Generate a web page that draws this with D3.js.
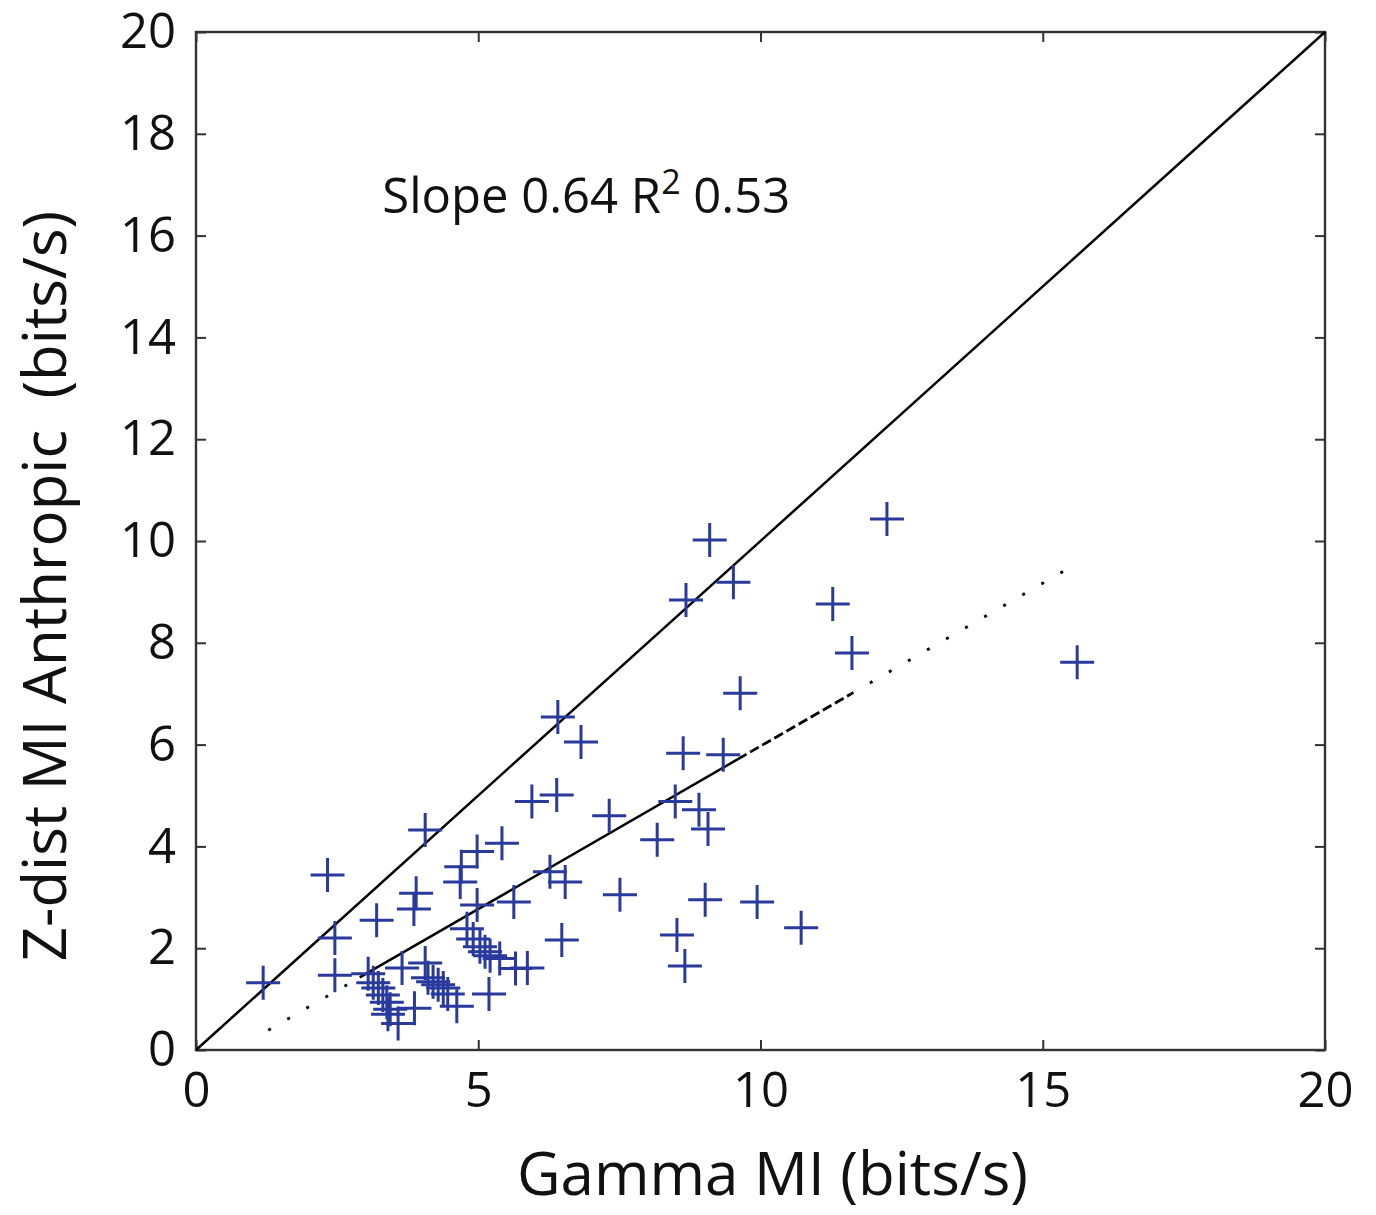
<!DOCTYPE html>
<html><head><meta charset="utf-8">
<script src="https://cdn.jsdelivr.net/npm/d3@7"></script>
<style>
html,body{margin:0;padding:0;background:#fff;}
text{font-family:"Open Sans","Noto Sans",sans-serif;fill:#111;}
</style></head>
<body>
<svg id="chart" width="1376" height="1215"></svg>
<script>
// ---- data ----
const gammaMI = [1.19,2.33,2.46,2.46,3.20,4.06,3.90,3.86,4.98,5.42,4.70,4.68,4.98,5.63,6.27,6.54,6.48,5.19,4.62,3.87,3.58,3.05,3.14,3.23,3.31,3.38,3.44,3.40,3.65,4.06,4.11,4.20,4.29,4.38,4.46,4.80,4.91,5.03,5.12,5.21,5.38,5.66,5.87,9.10,9.52,8.68,11.28,9.64,6.41,6.82,8.63,9.34,5.95,6.39,7.32,8.49,8.91,9.07,8.17,7.51,9.02,9.94,10.72,8.52,8.66,12.24,11.62,15.61];
const zdistMI = [1.32,3.44,2.20,1.47,2.55,4.32,3.08,2.77,3.90,4.06,3.60,3.30,2.85,2.91,3.50,3.30,2.16,1.10,0.86,0.82,0.52,1.50,1.32,1.22,1.08,0.94,0.80,0.70,1.61,1.71,1.42,1.34,1.28,1.22,1.10,2.38,2.18,2.03,1.93,1.85,1.80,1.60,1.61,10.02,9.19,8.84,8.76,7.01,6.54,6.05,5.83,5.80,4.88,5.01,4.60,4.88,4.72,4.34,4.13,3.05,2.95,2.91,2.40,2.26,1.65,10.43,7.80,7.62];
const xTicks = [0,5,10,15,20];
const yTicks = [0,2,4,6,8,10,12,14,16,18,20];
const fitSlope = 0.64, fitIntercept = -0.43;
// fit line pieces: [x start, x end, style]
const fitPieces = [[1.28,2.9,"dot"],[2.9,9.6,"solid"],[9.6,11.6,"dash"],[11.6,15.5,"dot"]];
const unityLine = [0,20];
const annotation = "Slope 0.64 R";

// ---- layout ----
const m = {left:196, top:32, right:51, bottom:165};
const W = 1376, H = 1215;
const iw = W - m.left - m.right, ih = H - m.top - m.bottom;
const svg = d3.select("#chart");
const g = svg.append("g").attr("transform",`translate(${m.left},${m.top})`);
const x = d3.scaleLinear().domain([0,20]).range([0,iw]);
const y = d3.scaleLinear().domain([0,20]).range([ih,0]);

// ticks (inside, all four sides)
const tl = 10;
const axisColor = "#333";
g.append("g").attr("transform",`translate(0,${ih})`)
  .call(d3.axisBottom(x).tickValues(xTicks).tickSize(-tl).tickPadding(22).tickFormat(d3.format("d")))
  .call(a=>{a.select(".domain").remove();a.selectAll("line").attr("stroke",axisColor).attr("stroke-width",2);
    a.selectAll("text").style("font-size","49px").attr("fill","#111");});
g.append("g")
  .call(d3.axisTop(x).tickValues(xTicks).tickSize(-tl).tickFormat(""))
  .call(a=>{a.select(".domain").remove();a.selectAll("line").attr("stroke",axisColor).attr("stroke-width",2);});
g.append("g")
  .call(d3.axisLeft(y).tickValues(yTicks).tickSize(-tl).tickPadding(20).tickFormat(d3.format("d")))
  .call(a=>{a.select(".domain").remove();a.selectAll("line").attr("stroke",axisColor).attr("stroke-width",2);
    a.selectAll("text").style("font-size","49px").attr("fill","#111");});
g.append("g").attr("transform",`translate(${iw},0)`)
  .call(d3.axisRight(y).tickValues(yTicks).tickSize(-tl).tickFormat(""))
  .call(a=>{a.select(".domain").remove();a.selectAll("line").attr("stroke",axisColor).attr("stroke-width",2);});

// frame
g.append("rect").attr("x",0).attr("y",0).attr("width",iw).attr("height",ih)
  .attr("fill","none").attr("stroke",axisColor).attr("stroke-width",2.4);

// unity line
g.append("line").attr("x1",x(unityLine[0])).attr("y1",y(unityLine[0]))
  .attr("x2",x(unityLine[1])).attr("y2",y(unityLine[1]))
  .attr("stroke","#000").attr("stroke-width",2.5);

// fit line
const dashes = {dot:"3,19", dash:"10,4", solid:null};
fitPieces.forEach(p=>{
  g.append("line").attr("x1",x(p[0])).attr("y1",y(fitSlope*p[0]+fitIntercept))
   .attr("x2",x(p[1])).attr("y2",y(fitSlope*p[1]+fitIntercept))
   .attr("stroke","#000").attr("stroke-width",p[2]==="solid"?2.5:2.8)
   .attr("stroke-dasharray",dashes[p[2]]);
});

// crosses
const arm = 17;
const pts = gammaMI.map((v,i)=>[v,zdistMI[i]]);
const cg = g.append("g").attr("stroke","#2a3a9c").attr("stroke-width",3);
cg.selectAll("path").data(pts).join("path")
  .attr("d",d=>{const cx=x(d[0]),cy=y(d[1]);return `M${cx-arm},${cy}H${cx+arm}M${cx},${cy-arm}V${cy+arm}`;})
  .attr("fill","none");

// annotation
const t = g.append("text").attr("x",x(3.3)).attr("y",y(16.45)).style("font-size","49px");
t.append("tspan").text(annotation);
t.append("tspan").attr("dy",-19).style("font-size","34px").text("2");
t.append("tspan").attr("dy",19).text(" 0.53");

// axis labels
svg.append("text").attr("x",m.left+iw/2 + 12).attr("y",1195).attr("text-anchor","middle")
  .style("font-size","60px").text("Gamma MI (bits/s)");
svg.append("text").attr("transform",`translate(66,${m.top+ih/2+45}) rotate(-90)`).attr("text-anchor","middle")
  .style("font-size","60px").attr("xml:space","preserve").text("Z-dist MI Anthropic  (bits/s)");
</script>
</body></html>
